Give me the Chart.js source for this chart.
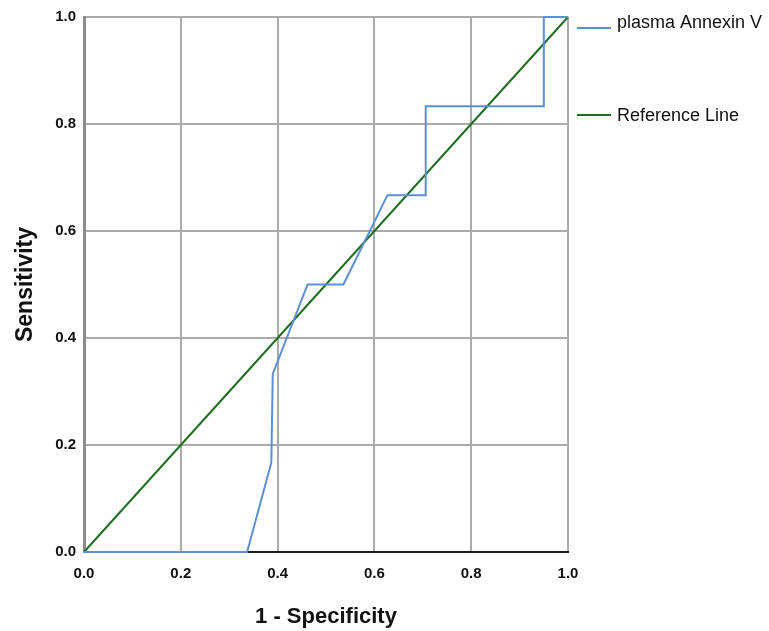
<!DOCTYPE html>
<html>
<head>
<meta charset="utf-8">
<script src="https://cdn.jsdelivr.net/npm/chart.js@4/dist/chart.umd.min.js"></script>
<style>
  html, body { margin: 0; padding: 0; background: #fff; }
  canvas { display: block; }
</style>
</head>
<body>
<canvas id="roc" width="769" height="631"></canvas>
<script>
// ROC curve
const oneMinusSpecificity = [0, 0.337, 0.387, 0.390, 0.462, 0.536, 0.627, 0.706, 0.706, 0.950, 0.950, 1.0];
const sensitivity = [0, 0, 0.167, 0.333, 0.5, 0.5, 0.667, 0.667, 0.833, 0.833, 1.0, 1.0];
const referenceX = [0, 1];
const referenceY = [0, 1];
const tickValues = [0, 0.2, 0.4, 0.6, 0.8, 1.0];
const seriesNames = ["plasma Annexin V", "Reference Line"];
const seriesColors = ["#5b8fd6", "#1f6e1f"];

const toPoints = (xs, ys) => xs.map((x, i) => ({ x, y: ys[i] }));
const fontFamily = "Arial, 'Liberation Sans', sans-serif";

// legend on the right, like the SPSS output
const sideLegend = {
  id: "sideLegend",
  afterDraw(chart) {
    const { ctx, chartArea } = chart;
    const rows = [28, 115];
    ctx.save();
    ctx.font = "18px " + fontFamily;
    ctx.textBaseline = "middle";
    ctx.fillStyle = "#111";
    seriesNames.forEach((name, i) => {
      const y = rows[i];
      ctx.strokeStyle = seriesColors[i];
      ctx.lineWidth = 2;
      ctx.beginPath();
      ctx.moveTo(chartArea.right + 9, y);
      ctx.lineTo(chartArea.right + 43, y);
      ctx.stroke();
      ctx.fillText(name, chartArea.right + 49, i === 0 ? y - 5 : y + 1);
    });
    ctx.restore();
  },
};

const setTicks = (scale) => {
  scale.ticks = tickValues.map((value) => ({ value }));
};

new Chart(document.getElementById("roc"), {
  type: "scatter",
  data: {
    datasets: [
      {
        label: seriesNames[0],
        data: toPoints(oneMinusSpecificity, sensitivity),
        showLine: true,
        borderColor: seriesColors[0],
        borderWidth: 2,
        pointRadius: 0,
        tension: 0,
        clip: false,
      },
      {
        label: seriesNames[1],
        data: toPoints(referenceX, referenceY),
        showLine: true,
        borderColor: seriesColors[1],
        borderWidth: 2,
        pointRadius: 0,
        clip: false,
      },
    ],
  },
  options: {
    responsive: false,
    animation: false,
    layout: { padding: { top: 17, right: 201, left: 0, bottom: 0 } },
    plugins: {
      legend: { display: false },
      tooltip: { enabled: false },
    },
    scales: {
      x: {
        type: "linear",
        min: 0,
        max: 1,
        afterBuildTicks: setTicks,
        afterFit: (scale) => { scale.height = 79; },
        ticks: {
          color: "#111",
          padding: 13,
          font: { family: fontFamily, size: 15, weight: "bold" },
          callback: (v) => v.toFixed(1),
          maxRotation: 0,
        },
        grid: { color: "#ababab", lineWidth: 2, drawTicks: false },
        border: { color: "#1a1a1a", width: 2 },
        title: {
          display: true,
          text: "1 - Specificity",
          color: "#111",
          font: { family: fontFamily, size: 22, weight: "bold" },
          padding: { top: 0, bottom: 1 },
        },
      },
      y: {
        type: "linear",
        min: 0,
        max: 1,
        afterBuildTicks: setTicks,
        afterFit: (scale) => { scale.width = 84; },
        ticks: {
          color: "#111",
          padding: 8,
          font: { family: fontFamily, size: 15, weight: "bold" },
          callback: (v) => v.toFixed(1),
        },
        grid: { color: "#ababab", lineWidth: 2, drawTicks: false },
        border: { color: "#8c8c8c", width: 3 },
        title: {
          display: true,
          text: "Sensitivity",
          color: "#111",
          font: { family: fontFamily, size: 23, weight: "bold" },
          padding: { top: 12, bottom: 0 },
        },
      },
    },
  },
  plugins: [sideLegend],
});
</script>
</body>
</html>
